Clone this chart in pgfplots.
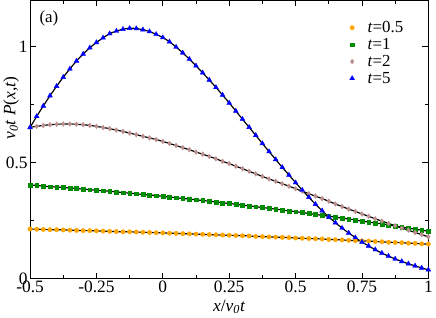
\documentclass[border=0pt]{standalone}
\usepackage{fontspec}
\setmainfont{Liberation Serif}
\usepackage{pgfplots}
\pgfplotsset{compat=1.18}
\usepackage{pgfplotstable}

\definecolor{orng}{RGB}{255,165,0}
\definecolor{grn}{RGB}{0,140,0}
\definecolor{rosy}{RGB}{188,143,143}
\definecolor{blu}{RGB}{0,0,255}

% t = 0.5
\pgfplotstableread[row sep=\\]{
x y\\
-0.5 0.214\\ -0.475 0.213\\ -0.45 0.212\\ -0.425 0.211\\ -0.4 0.211\\ -0.375 0.210\\
-0.35 0.209\\ -0.325 0.208\\ -0.3 0.207\\ -0.275 0.207\\ -0.25 0.206\\ -0.225 0.205\\
-0.2 0.204\\ -0.175 0.203\\ -0.15 0.202\\ -0.125 0.202\\ -0.1 0.201\\ -0.075 0.200\\
-0.05 0.199\\ -0.025 0.198\\ 0 0.197\\ 0.025 0.196\\ 0.05 0.195\\ 0.075 0.194\\
0.1 0.193\\ 0.125 0.192\\ 0.15 0.191\\ 0.175 0.190\\ 0.2 0.189\\ 0.225 0.188\\
0.25 0.187\\ 0.275 0.186\\ 0.3 0.185\\ 0.325 0.184\\ 0.35 0.182\\ 0.375 0.181\\
0.4 0.180\\ 0.425 0.179\\ 0.45 0.178\\ 0.475 0.177\\ 0.5 0.175\\ 0.525 0.174\\
0.55 0.173\\ 0.575 0.172\\ 0.6 0.171\\ 0.625 0.169\\ 0.65 0.168\\ 0.675 0.167\\
0.7 0.165\\ 0.725 0.164\\ 0.75 0.163\\ 0.775 0.162\\ 0.8 0.160\\ 0.825 0.159\\
0.85 0.157\\ 0.875 0.156\\ 0.9 0.155\\ 0.925 0.153\\ 0.95 0.152\\ 0.975 0.150\\
1 0.149\\
}\tHalf

% t = 1
\pgfplotstableread[row sep=\\]{
x y\\
-0.5 0.404\\ -0.475 0.402\\ -0.45 0.399\\ -0.425 0.397\\ -0.4 0.395\\ -0.375 0.393\\
-0.35 0.391\\ -0.325 0.389\\ -0.3 0.386\\ -0.275 0.384\\ -0.25 0.381\\ -0.225 0.379\\
-0.2 0.377\\ -0.175 0.374\\ -0.15 0.371\\ -0.125 0.369\\ -0.1 0.366\\ -0.075 0.363\\
-0.05 0.361\\ -0.025 0.358\\ 0 0.355\\ 0.025 0.352\\ 0.05 0.349\\ 0.075 0.346\\
0.1 0.343\\ 0.125 0.340\\ 0.15 0.337\\ 0.175 0.334\\ 0.2 0.331\\ 0.225 0.327\\
0.25 0.324\\ 0.275 0.321\\ 0.3 0.317\\ 0.325 0.314\\ 0.35 0.310\\ 0.375 0.307\\
0.4 0.303\\ 0.425 0.300\\ 0.45 0.296\\ 0.475 0.292\\ 0.5 0.289\\ 0.525 0.285\\
0.55 0.281\\ 0.575 0.277\\ 0.6 0.273\\ 0.625 0.269\\ 0.65 0.265\\ 0.675 0.261\\
0.7 0.257\\ 0.725 0.253\\ 0.75 0.248\\ 0.775 0.244\\ 0.8 0.240\\ 0.825 0.236\\
0.85 0.231\\ 0.875 0.227\\ 0.9 0.222\\ 0.925 0.218\\ 0.95 0.213\\ 0.975 0.209\\
1 0.204\\
}\tOne

% t = 2
\pgfplotstableread[row sep=\\]{
x y\\
-0.5 0.653\\ -0.475 0.657\\ -0.45 0.661\\ -0.425 0.664\\ -0.4 0.666\\ -0.375 0.667\\
-0.35 0.667\\ -0.325 0.666\\ -0.3 0.664\\ -0.275 0.661\\ -0.25 0.657\\ -0.225 0.652\\
-0.2 0.647\\ -0.175 0.641\\ -0.15 0.635\\ -0.125 0.628\\ -0.1 0.621\\ -0.075 0.614\\
-0.05 0.607\\ -0.025 0.600\\ 0 0.592\\ 0.025 0.583\\ 0.05 0.574\\ 0.075 0.565\\
0.1 0.556\\ 0.125 0.546\\ 0.15 0.537\\ 0.175 0.527\\ 0.2 0.517\\ 0.225 0.506\\
0.25 0.496\\ 0.275 0.485\\ 0.3 0.474\\ 0.325 0.463\\ 0.35 0.452\\ 0.375 0.441\\
0.4 0.430\\ 0.425 0.420\\ 0.45 0.409\\ 0.475 0.399\\ 0.5 0.388\\ 0.525 0.377\\
0.55 0.366\\ 0.575 0.356\\ 0.6 0.345\\ 0.625 0.334\\ 0.65 0.322\\ 0.675 0.311\\
0.7 0.300\\ 0.725 0.290\\ 0.75 0.279\\ 0.775 0.269\\ 0.8 0.258\\ 0.825 0.248\\
0.85 0.238\\ 0.875 0.228\\ 0.9 0.218\\ 0.925 0.209\\ 0.95 0.199\\ 0.975 0.190\\
1 0.180\\
}\tTwo

% t = 5
\pgfplotstableread[row sep=\\]{
x y\\
-0.5 0.652\\ -0.475 0.700\\ -0.45 0.745\\ -0.425 0.789\\ -0.4 0.830\\ -0.375 0.869\\
-0.35 0.905\\ -0.325 0.939\\ -0.3 0.969\\ -0.275 0.996\\ -0.25 1.019\\ -0.225 1.039\\
-0.2 1.057\\ -0.175 1.068\\ -0.15 1.076\\ -0.125 1.080\\ -0.1 1.079\\ -0.075 1.074\\
-0.05 1.066\\ -0.025 1.054\\ 0 1.040\\ 0.025 1.022\\ 0.05 0.999\\ 0.075 0.974\\
0.1 0.947\\ 0.125 0.918\\ 0.15 0.888\\ 0.175 0.857\\ 0.2 0.825\\ 0.225 0.792\\
0.25 0.758\\ 0.275 0.723\\ 0.3 0.688\\ 0.325 0.653\\ 0.35 0.618\\ 0.375 0.583\\
0.4 0.548\\ 0.425 0.514\\ 0.45 0.480\\ 0.475 0.447\\ 0.5 0.414\\ 0.525 0.382\\
0.55 0.351\\ 0.575 0.321\\ 0.6 0.293\\ 0.625 0.266\\ 0.65 0.241\\ 0.675 0.218\\
0.7 0.197\\ 0.725 0.177\\ 0.75 0.158\\ 0.775 0.141\\ 0.8 0.125\\ 0.825 0.110\\
0.85 0.097\\ 0.875 0.085\\ 0.9 0.074\\ 0.925 0.064\\ 0.95 0.055\\ 0.975 0.046\\
1 0.038\\
}\tFive

\begin{document}
\begin{tikzpicture}
\begin{axis}[
    scale only axis,
    width=401bp, height=280bp,
    xmin=-0.5, xmax=1, ymin=0, ymax=1.2,
    xtick={-0.5,-0.25,0,0.25,0.5,0.75,1},
    xticklabels={-0.5,-0.25,0,0.25,0.5,0.75,1},
    ytick={0,0.5,1},
    yticklabels={0,0.5,1},
    minor x tick num=1, minor y tick num=1,
    xtick pos=both, ytick pos=both,
    tick align=inside,
    major tick length=6bp, minor tick length=3.5bp,
    every tick/.style={black, line width=0.8bp},
    axis line style={line width=1bp},
    tick label style={font=\fontsize{17.5bp}{19bp}\selectfont},
    xticklabel style={yshift=1bp},
    yticklabel style={xshift=1bp},
    xlabel={\textit{x}/\textit{v}\textsubscript{\textit{0}}\textit{t}},
    ylabel={\textit{v}\textsubscript{\textit{0}}\textit{t P}(\textit{x},\textit{t})},
    xlabel style={font=\fontsize{17.5bp}{19bp}\selectfont, yshift=0bp},
    every axis y label/.style={at={(axis description cs:0,0.614)}, rotate=90,
        anchor=center, yshift=19bp, font=\fontsize{17.5bp}{19bp}\selectfont},
    legend style={draw=none, fill=none, at={(0.95,0.94)}, anchor=north east,
        font=\fontsize{17bp}{17bp}\selectfont, row sep=0.3bp},
    legend cell align=left,
    legend image code/.code={\path[draw=none, fill=none] (0.3cm,0cm) -- (0.78cm,0cm);
        \draw[#1] plot coordinates {(0.3cm,0cm)};},
]
\addplot[only marks, mark=*, mark size=2.2bp, color=orng] table {\tHalf};
\addlegendentry{\textit{t}=0.5}
\addplot[only marks, mark=square*, mark size=1.9bp, color=grn] table {\tOne};
\addlegendentry{\textit{t}=1}
\addplot[only marks, mark=diamond*, mark size=2.4bp, color=rosy] table {\tTwo};
\addlegendentry{\textit{t}=2}
\addplot[only marks, mark=triangle*, mark size=2.8bp, color=blu] table {\tFive};
\addlegendentry{\textit{t}=5}

\addplot[black, line width=1.2bp, smooth, forget plot] table {\tHalf};
\addplot[black, line width=1.2bp, smooth, forget plot] table {\tOne};
\addplot[black, line width=1.2bp, smooth, forget plot] table {\tTwo};
\addplot[black, line width=1.2bp, smooth, forget plot] table {\tFive};

\node[anchor=north west, font=\fontsize{17bp}{19bp}\selectfont]
    at (rel axis cs:0.015,0.975) {(a)};
\end{axis}
\end{tikzpicture}
\end{document}
